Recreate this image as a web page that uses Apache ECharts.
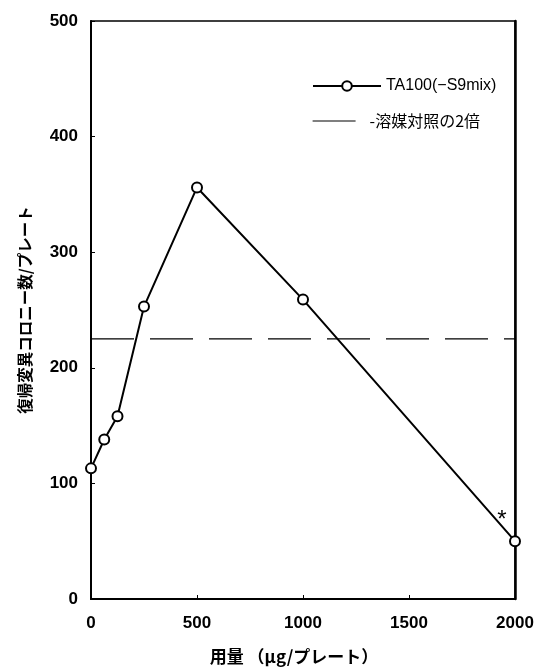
<!DOCTYPE html>
<html>
<head>
<meta charset="utf-8">
<script src="https://cdn.jsdelivr.net/npm/echarts@6/dist/echarts.min.js"></script>
<style>
html,body{margin:0;padding:0;background:#fff;}
#c{width:538px;height:670px;}
</style>
</head>
<body>
<div id="c"></div>
<script>
// Data
const doses = [0, 62.5, 125, 250, 500, 1000, 2000];
const revertants = [113, 138, 158, 253, 356, 259, 50];
const controlTwice = 225;
const controlRange = [0, 2000];
const xTicks = [0, 500, 1000, 1500, 2000];
const yTicks = [0, 100, 200, 300, 400, 500];
const seriesName = 'TA100(\u2212S9mix)';
const refName = '-溶媒対照の2倍';
const toxicMarkIndex = 6;

const chart = echarts.init(document.getElementById('c'));
const numFont = {fontFamily: 'Liberation Sans, Arial, sans-serif', fontSize: 17, fontWeight: 'bold', color: '#000'};
const cjkFont = 'Noto Sans CJK JP, sans-serif';

const mainData = doses.map((d, i) => {
  const item = {value: [d, revertants[i]]};
  if (i === toxicMarkIndex) {
    item.label = {show: true, formatter: '*', position: 'top', offset: [-13, 2], fontSize: 24, color: '#000', fontFamily: 'Liberation Sans, Arial, sans-serif'};
  }
  return item;
});

chart.setOption({
  animation: false,
  backgroundColor: '#fff',
  grid: {left: 91, right: 23, top: 21, bottom: 71, show: true, borderColor: '#000', borderWidth: 1.5, backgroundColor: 'transparent'},
  legend: [
    {data: [seriesName], left: 307, top: 73, itemWidth: 68, itemHeight: 12,
     textStyle: {fontFamily: 'Liberation Sans, Arial, sans-serif', fontSize: 16, color: '#000'}},
    {data: [{name: refName, itemStyle: {opacity: 0}}], left: 307, top: 108, itemWidth: 43, itemHeight: 12,
     lineStyle: {type: 'solid', width: 1.2},
     textStyle: {fontFamily: cjkFont, fontSize: 16, color: '#000', padding: [0, 0, 0, 9]}}
  ],
  xAxis: {
    type: 'value', min: xTicks[0], max: xTicks[xTicks.length - 1], interval: 500,
    name: '用量 （μg/プレート）', nameLocation: 'middle', nameGap: 49,
    nameTextStyle: {fontFamily: cjkFont, fontSize: 17, fontWeight: 'bold', color: '#000', padding: [0, 18, 0, 0]},
    axisLine: {lineStyle: {color: '#000', width: 2}},
    axisTick: {inside: true, length: 4, lineStyle: {color: '#000'}},
    axisLabel: Object.assign({margin: 16, formatter: v => String(v)}, numFont),
    splitLine: {show: false}
  },
  yAxis: [{
    type: 'value', min: yTicks[0], max: yTicks[yTicks.length - 1], interval: 100,
    name: '復帰変異コロニー数/プレート', nameLocation: 'middle', nameGap: 58, nameRotate: 90,
    nameTextStyle: {fontFamily: cjkFont, fontSize: 15.5, fontWeight: 'bold', color: '#000'},
    axisLine: {show: true, lineStyle: {color: '#000', width: 2}},
    axisTick: {inside: true, length: 4, lineStyle: {color: '#000'}},
    axisLabel: Object.assign({margin: 13, formatter: v => String(v)}, numFont),
    splitLine: {show: false}
  }, {
    type: 'value', min: 0, max: 500, interval: 100, position: 'right',
    axisLine: {show: true, lineStyle: {color: '#000', width: 2.5}},
    axisTick: {show: false}, axisLabel: {show: false}, splitLine: {show: false}
  }],
  series: [
    {
      name: seriesName, type: 'line', data: mainData,
      symbol: 'circle', symbolSize: 10,
      itemStyle: {color: '#fff', borderColor: '#000', borderWidth: 2},
      lineStyle: {color: '#000', width: 2},
      z: 3
    },
    {
      name: refName, type: 'line',
      data: controlRange.map(x => [x, controlTwice]),
      symbol: 'none',
      lineStyle: {color: '#000', width: 1.2, type: [43, 16]},
      itemStyle: {color: '#000'},
      z: 2
    }
  ]
});
</script>
</body>
</html>
